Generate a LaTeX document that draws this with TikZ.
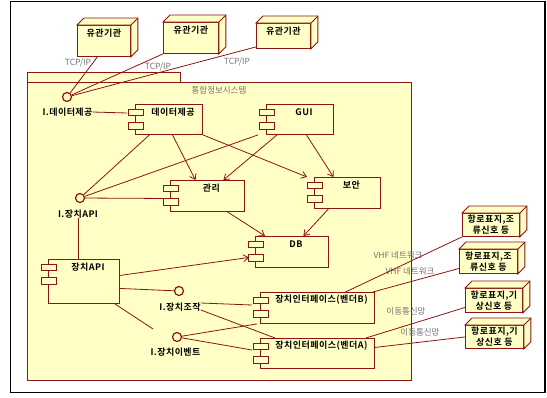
\documentclass[tikz,border=0pt]{standalone}
\usepackage{fontspec}
\setmainfont{Noto Sans CJK KR}[BoldFont={Noto Sans CJK KR Bold}]
\newfontfamily\spacedbf{Noto Sans CJK KR Bold}[LetterSpace=5]
\usetikzlibrary{arrows.meta}
\definecolor{dred}{RGB}{140,20,20}
\definecolor{lyel}{RGB}{255,255,198}
\definecolor{gtxt}{RGB}{115,115,115}
\tikzset{
 ln/.style={draw=dred, line width=0.8pt},
 arr/.style={ln, -{Straight Barb[length=5pt,width=7pt]}},
 compbox/.style={draw=dred, fill=lyel, line width=0.9pt, rectangle, inner sep=0pt, anchor=north west},
 tabbox/.style={draw=dred, fill=lyel, line width=0.9pt},
 nbox/.style={draw=dred, fill=lyel, line width=0.9pt, rectangle, inner sep=0pt, anchor=north west},
 side/.style={draw=dred, fill=lyel, line width=0.9pt, line join=miter},
 blbl/.style={font=\spacedbf\fontsize{9}{11}\selectfont, inner sep=0pt, align=center},
 glbl/.style={font=\fontsize{8.5}{10}\selectfont, text=gtxt, inner sep=0pt},
 iface/.style={circle, draw=dred, line width=1.2pt, fill=lyel, minimum size=9pt, inner sep=0pt},
}
\newcommand\mycomp[6]{%
 \node[compbox, minimum width=#4pt, minimum height=#5pt] (#1) at (#2,#3) {};
 \draw[tabbox] ([xshift=-7pt,yshift=-5pt]#1.north west) rectangle ++(15,6.5);
 \draw[tabbox] ([xshift=-7pt,yshift=-18.5pt]#1.north west) rectangle ++(15,6.5);
 \node[blbl] (#1-l) at ([xshift=4pt,yshift=-8pt]#1.north) {#6};
}
\newcommand\mynode[5]{%
 \node[nbox, minimum width=#4pt, minimum height=#5pt] (#1) at (#2,#3) {};
 \filldraw[side] (#1.north west) -- ([shift={(7pt,7pt)}]#1.north west) -- ([shift={(7pt,7pt)}]#1.north east) -- ([shift={(7pt,7pt)}]#1.south east) -- (#1.south east) -- (#1.north east) -- cycle;
 \draw[side] (#1.north east) -- ([shift={(7pt,7pt)}]#1.north east);
}
\begin{document}
\begin{tikzpicture}[x=1pt,y=-1pt]
\useasboundingbox (0,0) rectangle (547,397);
\fill[white] (0,0) rectangle (547,397);
\draw[line width=1.6pt] (10.5,1.5) rectangle (545,392.5);
% package
\draw[draw=dred, fill=lyel, line width=0.9pt] (27,72) rectangle (180,82);
\draw[draw=dred, fill=lyel, line width=0.9pt] (27,82) rectangle (411,380);
\node[glbl] (title) at (219,90) {통합정보시스템};
% external nodes
\mynode{n1}{77}{25}{53}{31}
\mynode{n2}{163}{22}{55}{31}
\mynode{n3}{256}{23}{54}{25}
\node[blbl] (n1-l) at ([yshift=-8.5pt]n1.north) {유관기관};
\node[blbl] (n2-l) at ([yshift=-8.5pt]n2.north) {유관기관};
\node[blbl] (n3-l) at ([yshift=-8.5pt]n3.north) {유관기관};
\mynode{r1}{462}{213}{57}{23}
\mynode{r2}{459}{249}{58}{24}
\mynode{r3}{465}{288}{57}{24}
\mynode{r4}{465}{325}{58}{23}
\node[blbl] (r1-l) at (r1.center) {항로표지,조\\류신호 등};
\node[blbl] (r2-l) at (r2.center) {항로표지,조\\류신호 등};
\node[blbl] (r3-l) at (r3.center) {항로표지,기\\상신호 등};
\node[blbl] (r4-l) at (r4.center) {항로표지,기\\상신호 등};
% components
\mycomp{dp}{135}{104}{67}{30}{데이터제공}
\mycomp{gui}{266}{104}{67}{30}{GUI}
\mycomp{mg}{170}{180}{74}{31}{관리}
\mycomp{sec}{314}{177}{66}{31}{보안}
\mycomp{db}{255}{236}{73}{31}{DB}
\mycomp{api}{48}{259}{71}{44}{장치API}
\mycomp{vB}{260}{292}{114}{31}{장치인터페이스(벤더B)}
\mycomp{vA}{260}{338}{114}{30}{장치인터페이스(벤더A)}
% interfaces
\node[iface] (idata) at (67,97) {};
\node[blbl] (idata-l) at (67.5,112) {I.데이터제공};
\node[iface] (iapi) at (80,198) {};
\node[blbl] (iapi-l) at (78,214) {I.장치API};
\node[iface] (ictl) at (179,291) {};
\node[blbl] (ictl-l) at (180,307) {I.장치조작};
\node[iface] (ievt) at (177,337) {};
\node[blbl] (ievt-l) at (175.5,352) {I.장치이벤트};
\coordinate (evtend) at (153,329);
% gray labels
\node[glbl] (tcp1) at (78,63) {TCP/IP};
\node[glbl] (tcp2) at (158,67) {TCP/IP};
\node[glbl] (tcp3) at (237,62) {TCP/IP};
\node[glbl] (vhf1) at (398,255) {VHF 네트워크};
\node[glbl] (vhf2) at (410,271) {VHF 네트워크};
\node[glbl] (mob1) at (406,311) {이동통신망};
\node[glbl] (mob2) at (420,332) {이동통신망};
% connectors
\draw[arr] ([xshift=3.5pt]dp.south) -- ([xshift=-12pt]mg.north);
\draw[arr] (dp.south east) -- ([xshift=-7pt]sec.north west);
\draw[arr] ([xshift=11pt]gui.south west) -- ([xshift=16pt]mg.north);
\draw[arr] ([xshift=6.5pt]gui.south) -- ([xshift=-14pt]sec.north);
\draw[arr] ([xshift=20pt]mg.south) -- ([xshift=10pt]db.north west);
\draw[arr] ([xshift=-19pt]sec.south) -- ([xshift=11.5pt]db.north);
\draw[arr] ([yshift=6pt]api.east) -- ([xshift=-6pt,yshift=-5.5pt]db.west);
\draw[ln] (idata) -- ([xshift=-6.5pt]n1.south);
\draw[ln] (idata) -- (n2.south west);
\draw[ln] (idata) -- ([yshift=2pt]n3.south west);
\draw[ln] (idata-l.east) -- ([xshift=-8pt,yshift=-9pt]dp.north west);
\draw[ln] ([xshift=-19.5pt]dp.south) -- (iapi);
\draw[ln] ([xshift=-8pt]gui.south west) -- (iapi);
\draw[ln] (iapi) -- ([xshift=-7pt,yshift=-2.5pt]mg.west);
\draw[ln] (iapi-l.south) -- (iapi-l.south |- api.north);
\draw[ln] ([yshift=-7pt]api.east) -- (ictl);
\draw[ln] ([xshift=-5pt]api.south east) -- (evtend);
\draw[ln] ([yshift=4pt]ictl-l.east) -- ([xshift=-8pt,yshift=-13pt]vB.north west);
\draw[ln] ([yshift=-3pt]ictl-l.east) -- ([xshift=15pt]vA.north west);
\draw[ln] (ievt) -- ([xshift=-3pt]vB.south west);
\draw[ln] (ievt) -- ([xshift=-8pt,yshift=-12pt]vA.north west);
\draw[ln] ([xshift=28pt]vB.north) -- (r1.south west);
\draw[ln] ([xshift=-2pt]vB.north east) -- ([yshift=-7pt]r2.west);
\draw[ln] ([xshift=-9pt]vA.north east) -- ([yshift=-7pt]r3.west);
\draw[ln] ([yshift=6pt]vA.east) -- (r4.west);
\end{tikzpicture}
\end{document}
